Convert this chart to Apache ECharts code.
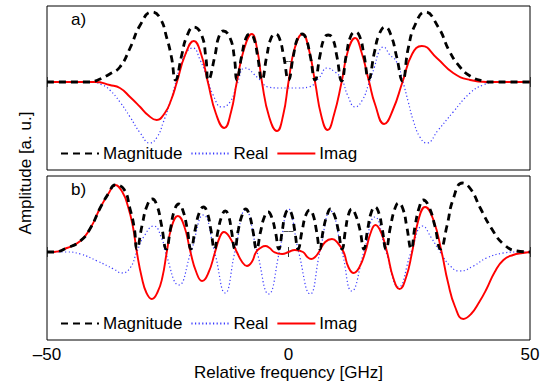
<!DOCTYPE html>
<html>
<head>
<meta charset="utf-8">
<script src="https://cdn.jsdelivr.net/npm/echarts@6/dist/echarts.min.js"></script>
<style>
  html, body { margin: 0; padding: 0; background: #fff; }
  #chart { width: 553px; height: 386px; }
</style>
</head>
<body>
<div id="chart"></div>
<script>
// x: relative frequency [GHz], y: amplitude in arbitrary units
const xTicks = [-50, 0, 50]
const yTick = [21]
const names = ['Magnitude', 'Real', 'Imag']
const panelLabels = ['a)', 'b)']

const magA = [[-50,0],[-41,0],[-39.5,2],[-37,8],[-34.9,15],[-32.8,34],[-30.7,57],[-28.3,70],[-26.6,64],[-25.2,44],[-24.2,24],[-23.4,2],
  [-22.1,27],[-21.1,45],[-19.6,55],[-18.0,47],[-17.1,24],[-16.6,2],[-15.2,27],[-14.5,44],[-13.5,51],[-12.1,44],[-11.2,24],[-10.7,2],
  [-9.7,26],[-8.8,44],[-8.0,48],[-7.2,44],[-6.4,26],[-5.5,2],[-4.5,26],[-3.6,44],[-2.7,48],[-1.9,44],[-1.0,26],[0,2],
  [1.0,26],[1.9,44],[2.8,48],[3.6,44],[4.5,26],[5.5,2],[6.5,26],[7.4,44],[8.2,47],[9.1,44],[10.0,26],[11.0,1],
  [12.0,28],[12.9,46],[13.8,50],[14.7,46],[15.6,28],[16.6,3],[17.8,30],[18.8,48],[20.0,55],[21.2,47],[22.4,25],[23.6,1],
  [24.8,34],[26.2,57],[28.3,70],[31.0,55],[33.4,30],[35.5,15],[37.6,6],[40.3,1],[42,0],[50,0]]
const realA = [[-50,0],[-41,0],[-38.5,-3],[-37,-8],[-34.9,-20],[-32.8,-35],[-30.7,-51],[-28.7,-61],[-27.2,-55],[-25.9,-40],[-24.5,-20],
  [-23.5,-3],[-22.5,14],[-21.1,30],[-19.8,34],[-18.3,22],[-16.9,5],[-15.6,-13],[-13.8,-25],[-12.1,-20],[-10.7,-3],[-9.0,14],
  [-6.3,4],[-4.2,-5],[-2.1,-6],[0,-6],[2.1,-6],[4.2,-5],[6.3,4],[8.0,14],[9.6,10],[11.0,3],[12.3,-14],[13.8,-25],[15.3,-18],
  [16.6,-2],[17.8,15],[18.7,30],[19.6,35],[21.0,27],[22.4,20],[23.7,0],[24.8,-20],[25.8,-38],[27.2,-55],[28.6,-61],[31.0,-48],
  [34.1,-30],[37.6,-11],[40.3,-3],[43,0],[50,0]]
const imagA = [[-50,0],[-40,0],[-37,-3],[-34.9,-6],[-32.8,-15],[-30.7,-25],[-29.1,-33],[-27.3,-38],[-25.6,-31],[-24.3,-18],[-23.1,0],
  [-21.4,27],[-19.6,41],[-18.1,28],[-16.7,0],[-15.0,-32],[-13.3,-46],[-11.9,-30],[-10.7,0],[-9.2,33],[-7.6,48],[-6.5,33],[-5.5,0],
  [-4.0,-35],[-2.4,-49],[-1.1,-33],[0,0],[1.3,34],[2.9,48],[4.2,33],[5.5,0],[6.8,-34],[8.1,-48],[9.4,-33],[11.0,0],[12.3,31],
  [13.8,44],[15.1,30],[16.7,0],[17.9,-22],[19.8,-42],[21.6,-28],[23.6,0],[25.6,28],[27.6,36],[30.7,24],[34.1,9],[37.6,2],[41,0],[50,0]]

const magB = [[-50,0],[-48.6,0],[-45.9,4],[-43.1,11],[-41.0,24],[-39.0,44],[-37.2,59],[-35.9,67],[-34.1,63],[-32.8,43],[-31.9,23],[-31.4,3],
  [-30.3,27],[-29.3,46],[-28.2,53],[-27.2,46],[-26.3,27],[-25.3,3],[-24.4,24],[-23.6,42],[-22.7,48],[-21.9,42],[-21.0,24],[-20.2,3],
  [-19.3,23],[-18.5,39],[-17.6,45],[-16.8,39],[-16.1,23],[-15.3,3],[-14.6,21],[-13.8,36],[-13.1,41],[-12.4,36],[-11.8,21],[-11.1,3],
  [-10.4,22],[-9.6,37],[-8.9,43],[-8.1,37],[-7.4,22],[-6.6,3],[-5.8,20],[-5.0,35],[-4.2,40],[-3.5,35],[-2.7,20],[-2.0,3],
  [-1.3,21],[-0.7,37],[0,42],[0.7,37],[1.3,21],[2.0,3],[2.8,21],[3.6,37],[4.4,42],[5.1,37],[5.8,21],[6.5,3],
  [7.2,22],[8.0,37],[8.7,43],[9.5,37],[10.3,22],[11.1,3],[11.8,22],[12.4,37],[13.1,43],[13.9,37],[14.8,22],[15.6,3],
  [16.4,23],[17.1,39],[17.9,45],[18.7,39],[19.4,23],[20.2,3],[21.1,25],[22.0,43],[22.8,49],[23.7,43],[24.5,25],[25.4,3],
  [26.2,26],[27.1,45],[27.9,52],[29.1,45],[30.3,26],[31.5,3],[32.8,26],[34.1,53],[36.0,69],[37.7,63],[39.7,44],[42.1,23],
  [44.5,8],[47.3,1],[50,0]]
const realB = [[-50,0],[-46,0],[-43.1,-2],[-39.6,-9],[-36.2,-17],[-34.5,-21],[-32.8,-16],[-31.4,0],[-30.0,15],[-27.9,26],[-26.2,13],
  [-25.5,0],[-22.7,-33],[-20.2,0],[-17.6,37],[-15.3,0],[-13.1,-41],[-11.1,0],[-8.9,42],[-6.5,0],[-4.1,-42],[-1.9,0],[0,43],
  [2.1,0],[4.5,-42],[6.5,0],[8.7,41],[11.1,0],[13.1,-39],[15.6,0],[17.9,35],[20.2,0],[22.8,-35],[25.4,0],[27.8,26],[29.6,14],
  [31.4,0],[33.5,-14],[35.5,-19],[38.3,-14],[41.0,-6],[44.5,-1],[47,0],[50,0]]
const imagB = [[-50,0],[-48.6,0],[-45.9,4],[-43.1,11],[-41.0,24],[-39.0,44],[-37.2,59],[-35.9,67],[-34.4,60],[-33.2,45],[-32.2,25],
  [-31.4,0],[-30.4,-25],[-29.4,-41],[-28.3,-47],[-27.1,-40],[-26.1,-25],[-25.2,0],[-24.2,25],[-22.9,36],[-21.6,26],[-20.3,0],
  [-19.1,-20],[-17.9,-29],[-16.6,-21],[-15.2,0],[-14.3,14],[-13.4,20],[-12.1,14],[-10.7,0],[-9.6,-10],[-8.6,-14],[-7.6,-10],
  [-6.7,0],[-5.8,4],[-4.8,6],[-3.9,4],[-3.0,0],[-1.3,-2],[0,0],[1.3,2],[3.0,0],[3.9,-5],[4.7,-7],[5.5,-5],[6.3,0],[7.6,10],
  [9.0,13],[10.2,9],[11.4,0],[12.4,-15],[13.5,-21],[14.7,-15],[15.9,0],[17.0,19],[18.0,27],[19.2,19],[20.4,0],[21.7,-26],
  [23.0,-37],[24.3,-26],[25.6,0],[26.9,32],[28.3,45],[30.0,32],[31.7,0],[33.0,-30],[34.5,-55],[36.2,-67],[37.8,-62],[39.5,-50],
  [41.0,-37],[42.7,-20],[44.5,-8],[46.5,-3],[48.5,-1],[50,0]]

const font = 'Liberation Sans, Arial, Helvetica, sans-serif'
const panelTops = [6, 176]

const chart = echarts.init(document.getElementById('chart'), null, { renderer: 'svg' })

const styles = {
  Magnitude: { color: '#000000', width: 2.8, type: [7, 5] },
  Real: { color: '#3a3aff', width: 1.2, type: [1.2, 2.4] },
  Imag: { color: '#ff0000', width: 1.9, type: 'solid' },
}

const xAxes = []
const yAxes = []
panelTops.forEach((top, i) => {
  ;['bottom', 'top'].forEach((pos) => {
    xAxes.push({
      type: 'value',
      gridIndex: i,
      position: pos,
      min: -50,
      max: 50,
      interval: 50,
      axisLine: { show: false },
      splitLine: { show: false },
      axisTick: { show: true, inside: true, length: 5, lineStyle: { color: '#333', width: 1 } },
      axisLabel: {
        show: i === 1 && pos === 'bottom',
        color: '#000',
        fontFamily: font,
        fontSize: 17,
        margin: 6,
        formatter: (v) => (xTicks.includes(v) ? String(v).replace('-', '\u2013') : ''),
      },
      name: i === 1 && pos === 'bottom' ? 'Relative frequency [GHz]' : '',
      nameLocation: 'middle',
      nameGap: 23,
      nameTextStyle: { color: '#000', fontFamily: font, fontSize: 17 },
    })
  })
  ;['left', 'right'].forEach((pos) => {
    yAxes.push({
      type: 'value',
      gridIndex: i,
      position: pos,
      min: -88,
      max: 76,
      axisLine: { show: false },
      splitLine: { show: false },
      axisLabel: { show: false },
      axisTick: { show: true, inside: true, length: 5, customValues: yTick, lineStyle: { color: '#555', width: 1 } },
    })
  })
})

const panels = [
  { Magnitude: magA, Real: realA, Imag: imagA },
  { Magnitude: magB, Real: realB, Imag: imagB },
]
const series = []
panels.forEach((p, i) => {
  ;['Real', 'Imag', 'Magnitude'].forEach((n) => {
    series.push({
      name: n,
      type: 'line',
      xAxisIndex: i * 2,
      yAxisIndex: i * 2,
      data: p[n],
      smooth: 0.5,
      symbol: 'none',
      lineStyle: styles[n],
      itemStyle: { color: styles[n].color },
      z: n === 'Magnitude' ? 4 : n === 'Imag' ? 3 : 2,
      animation: false,
    })
  })
})

const option = {
  backgroundColor: '#ffffff',
  animation: false,
  grid: panelTops.map((top) => ({
    left: 47,
    right: 23,
    top: top,
    height: 164,
    show: true,
    borderColor: '#000',
    borderWidth: 1,
    backgroundColor: 'transparent',
    outerBoundsMode: 'none',
  })),
  xAxis: xAxes,
  yAxis: yAxes,
  legend: panelTops.map((top) => ({
    data: names,
    left: 60,
    top: top + 139,
    orient: 'horizontal',
    itemWidth: 38,
    itemHeight: 14,
    itemGap: 8,
    padding: 0,
    selectedMode: false,
    itemStyle: { color: 'rgba(0,0,0,0)', borderColor: 'rgba(0,0,0,0)', borderWidth: 0 },
    textStyle: { color: '#000', fontFamily: font, fontSize: 17, padding: [0, 0, 0, -1] },
  })),
  graphic: [
    ...panelTops.map((top, i) => ({
      type: 'text',
      left: 71,
      top: top + 5,
      style: { text: panelLabels[i], fill: '#000', font: '17px ' + font },
    })),
    {
      type: 'text',
      x: 25,
      y: 173,
      rotation: Math.PI / 2,
      style: {
        text: 'Amplitude [a. u.]',
        fill: '#000',
        font: '17px ' + font,
        align: 'center',
        verticalAlign: 'middle',
      },
    },
  ],
  series: series,
}

chart.setOption(option)
</script>
</body>
</html>
